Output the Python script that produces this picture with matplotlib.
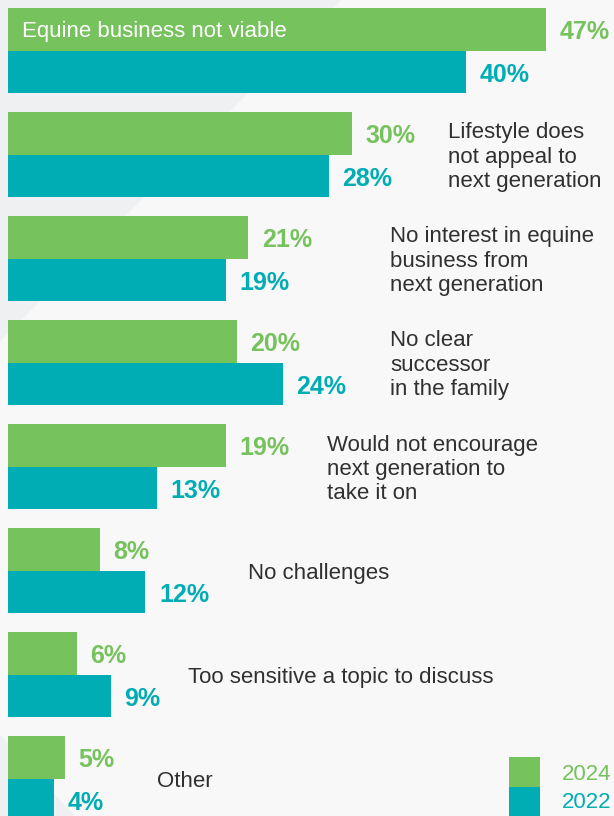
import numpy as np
import matplotlib
matplotlib.use("Agg")
import matplotlib.pyplot as plt
from matplotlib.patches import Polygon, Rectangle

# ── Survey data ──────────────────────────────────────────────────────────────
categories = [
    "Equine business not viable",
    "Lifestyle does\nnot appeal to\nnext generation",
    "No interest in equine\nbusiness from\nnext generation",
    "No clear\nsuccessor\nin the family",
    "Would not encourage\nnext generation to\ntake it on",
    "No challenges",
    "Too sensitive a topic to discuss",
    "Other",
]
pct_2024 = [47, 30, 21, 20, 19, 8, 6, 5]
pct_2022 = [40, 28, 19, 24, 13, 12, 9, 4]
years = ["2024", "2022"]

# where each challenge label starts (in % units); first one sits inside its bar
label_x = [None, 38.4, 33.4, 33.4, 27.9, 21.0, 15.7, 13.0]

GREEN = "#76c25c"
TEAL = "#00adb5"
TEXT = "#303030"
BG = "#f8f8f8"
SHADE = "#eff0f2"

plt.rcParams["font.family"] = ["Liberation Sans", "DejaVu Sans"]

W, H = 614, 816
fig = plt.figure(figsize=(W / 100, H / 100), dpi=100, facecolor=BG)
ax = fig.add_axes([0, 0, 1, 1])
ax.set_facecolor(BG)
ax.axis("off")


def px(x, y):
    """pixel position -> axes fraction"""
    return (x / W, 1 - y / H)


# faint diagonal panels in the background
for pts in ([(0, 0), (341, 0), (0, 341)], [(0, 735), (75, 816), (0, 816)]):
    ax.add_patch(Polygon([px(*p) for p in pts], closed=True, facecolor=SHADE,
                         edgecolor="none", transform=ax.transAxes, zorder=0))

# x in percent (11.45 px per point), y in group units (104 px per group)
ppp = 11.45
ax.set_xlim(-8 / ppp, (W - 8) / ppp)
ax.set_ylim((H - 50.6) / 104, -50.6 / 104)

y = np.arange(len(categories))
h = 0.41
ax.barh(y - h / 2, pct_2024, height=h, color=GREEN, zorder=2)
ax.barh(y + h / 2, pct_2022, height=h, color=TEAL, zorder=2)

off = 13.5 / ppp
dy = 0.025  # nudge text down a touch so glyphs sit optically centred
for i in range(len(categories)):
    ax.text(pct_2024[i] + off, y[i] - h / 2 + dy, f"{pct_2024[i]}%", color=GREEN,
            fontsize=18, fontweight="bold", va="center", ha="left", zorder=3)
    ax.text(pct_2022[i] + off, y[i] + h / 2 + dy, f"{pct_2022[i]}%", color=TEAL,
            fontsize=18, fontweight="bold", va="center", ha="left", zorder=3)
    if label_x[i] is None:
        ax.text(14 / ppp, y[i] - h / 2 + dy, categories[i], color="white",
                fontsize=16, va="center", ha="left", zorder=3)
    else:
        ax.text(label_x[i], y[i] + dy, categories[i], color=TEXT, fontsize=16,
                va="center", ha="left", linespacing=1.2, zorder=3)

# legend swatches, bottom right
for (x0, y0, col), yr, ty in zip([(509, 757, GREEN), (509, 787, TEAL)], years,
                                 [775, 802]):
    ax.add_patch(Rectangle(px(x0, y0 + 30), 31 / W, 30 / H, facecolor=col,
                           edgecolor="none", transform=ax.transAxes, zorder=2))
    ax.text(*px(562, ty), yr, color=col, fontsize=16, va="center", ha="left",
            transform=ax.transAxes)

fig.savefig("out.png", dpi=100, facecolor=BG)
